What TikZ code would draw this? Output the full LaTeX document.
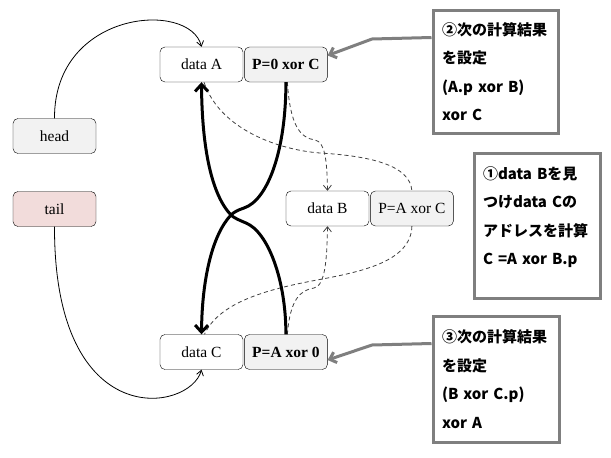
\documentclass[tikz,border=0pt]{standalone}
\usepackage{fontspec}
\setmainfont{Liberation Serif}
\newfontfamily\jpfont{Noto Sans CJK JP}
\usetikzlibrary{positioning,arrows.meta,calc}
\definecolor{cellgray}{HTML}{F2F2F2}
\definecolor{tailpink}{HTML}{F2DCDB}
\definecolor{notegray}{HTML}{7F7F7F}
\definecolor{dashgray}{HTML}{404040}

\begin{document}
\begin{tikzpicture}[x=1pt, y=-1pt,
  cell/.style={draw, rounded corners=5pt, minimum width=83pt, minimum height=35pt, inner sep=0pt, font=\fontsize{15.5}{18}\selectfont},
  ptr/.style={cell, fill=cellgray},
  note/.style={draw=notegray, line width=3pt, align=left, inner xsep=9pt, inner ysep=0pt, font=\jpfont\bfseries\fontsize{15}{28.5}\selectfont},
  link/.style={line width=3pt, -{Straight Barb[length=7pt,width=13pt]}},
  hop/.style={dashgray, line width=0.8pt, dash pattern=on 4pt off 3pt},
  hoptip/.style={hop, -{Straight Barb[length=5pt,width=8pt]}},
  start/.style={line width=0.8pt, -{Straight Barb[length=5pt,width=7pt]}},
  callout/.style={notegray, line width=3pt, -{Straight Barb[length=6pt,width=11pt]}}]

\useasboundingbox (0,0) rectangle (611,458);

% list cells
\node[cell] (dA) at (201.5,64.5) {data A};
\node[ptr, right=1pt of dA] (pA) {\bfseries P=0 xor C};
\node[cell] (dB) at (327.5,208.5) {data B};
\node[ptr, right=1pt of dB] (pB) {P=A xor C};
\node[cell] (dC) at (201.5,352) {data C};
\node[ptr, right=1pt of dC] (pC) {\bfseries P=A xor 0};

\node[ptr] (hd) at (54.5,136) {head};
\node[cell, fill=tailpink] (tl) at (54.5,209) {tail};

% notes
\node[note, text width=107pt, minimum height=123pt] (nTwo) at (495.5,71.5) {②次の計算結果\\を設定\\(A.p xor B)\\xor C};
\node[note, text width=108pt, minimum height=145pt] (nOne) at (537,225.5) {①data Bを見\\つけdata Cの\\アドレスを計算\\C =A xor B.p\\[-8.5pt]\mbox{}};
\node[note, text width=108pt, minimum height=126pt] (nThree) at (496,379) {③次の計算結果\\を設定\\(B xor C.p)\\xor A};

% head and tail
\draw[start] (hd.north) .. controls (54,10) and (190,0) .. (dA.north);
\draw[start] (tl.south) .. controls (54,435) and (190,412) .. (dC.south);

% dashed xor links
\draw[hoptip] ([xshift=1.5pt]pA.south) .. controls (290,125) and (300,138) .. (315,140) .. controls (325,142) and (327,160) .. (dB.north);
\draw[hop] ([xshift=2.5pt]dA.south) .. controls (220,130) and (280,150) .. (320,153) .. controls (370,156) and (410,165) .. (pB.north);
\draw[hop] (pB.south) .. controls (411,262) and (360,272) .. (317,280) .. controls (275,288) and (220,300) .. ([xshift=3pt]dC.north);
\draw[hoptip] ([xshift=1.5pt]pC.north) .. controls (290,300) and (300,290) .. (314,288) .. controls (325,286) and (327,260) .. (dB.south);

% followed pointers
\draw[link] (pA.south) .. controls (286,150) and (268,200) .. (244,208) .. controls (238,210) and (234,212) .. (231,215) .. controls (212,235) and (202,280) .. (dC.north);
\draw[link] (pC.north) .. controls (286,280) and (268,232) .. (246,223) .. controls (239,220) and (234,218) .. (231,215) .. controls (212,195) and (202,150) .. (dA.south);

% callouts
\draw[callout] ($(nTwo.north west)+(0,29)$) -- (372,39) -- ([yshift=9pt]pA.east);
\draw[callout] ($(nThree.north west)+(0,29)$) -- (372,345) -- ([yshift=-8pt]pC.east);

\end{tikzpicture}
\end{document}
